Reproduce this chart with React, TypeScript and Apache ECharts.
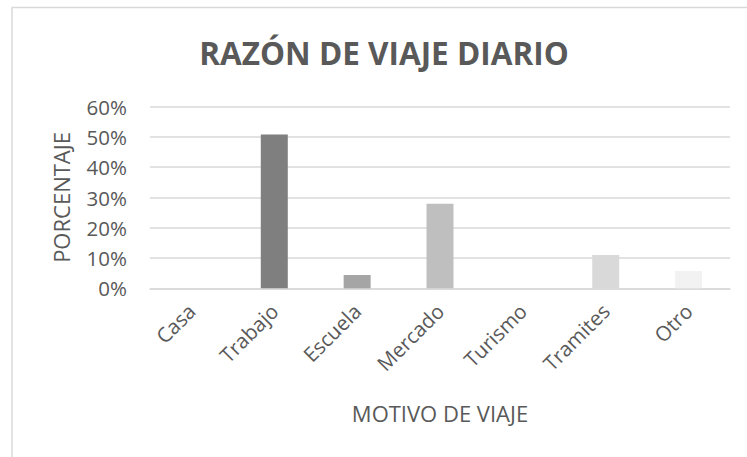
import React, { useEffect, useRef } from "react";
import * as echarts from "echarts";

const categories = ["Casa", "Trabajo", "Escuela", "Mercado", "Turismo", "Tramites", "Otro"];
const values = [0, 0.508, 0.044, 0.279, 0, 0.11, 0.057];
const barColors = ["#595959", "#7f7f7f", "#a5a5a5", "#bfbfbf", "#cccccc", "#d9d9d9", "#f2f2f2"];
const yTicks = [0, 0.1, 0.2, 0.3, 0.4, 0.5, 0.6];

const titleText = "RAZÓN DE VIAJE DIARIO";
const yName = "PORCENTAJE";
const xName = "MOTIVO DE VIAJE";

export default function App() {
  const ref = useRef<HTMLDivElement>(null);
  useEffect(() => {
    if (!ref.current) return;
    const chart = echarts.init(ref.current, undefined, { renderer: "svg" });
    const font = "Open Sans";
    const textColor = "#595959";
    chart.setOption({
      animation: false,
      backgroundColor: "#ffffff",
      textStyle: { fontFamily: font },
      graphic: [
        {
          type: "rect",
          shape: { x: 12, y: 7.5, width: 800, height: 500 },
          style: { fill: "none", stroke: "#d9d9d9", lineWidth: 1.5 },
          silent: true,
          z: -1,
        },
        {
          type: "text",
          x: 384,
          y: 52,
          style: {
            text: titleText,
            fontFamily: font,
            fontWeight: "bold",
            fontSize: 31.5,
            fill: textColor,
            textAlign: "center",
            textVerticalAlign: "middle",
          },
        },
      ],
      grid: { left: 150, right: 17, top: 106.7, bottom: 168.7 },
      xAxis: {
        type: "category",
        data: categories,
        name: xName,
        nameLocation: "middle",
        nameGap: 114,
        nameTextStyle: { fontFamily: font, fontSize: 22, color: textColor },
        axisLine: { show: true, lineStyle: { color: "#d9d9d9", width: 1.5 } },
        axisTick: { show: false },
        axisLabel: {
          rotate: 45,
          interval: 0,
          margin: 19,
          fontFamily: font,
          fontSize: 20.5,
          color: textColor,
        },
      },
      yAxis: {
        type: "value",
        min: yTicks[0],
        max: yTicks[yTicks.length - 1],
        interval: 0.1,
        name: yName,
        nameLocation: "middle",
        nameGap: 78,
        nameTextStyle: { fontFamily: font, fontSize: 22, color: textColor },
        axisLine: { show: false },
        axisTick: { show: false },
        splitLine: { lineStyle: { color: "#d9d9d9", width: 1.5 } },
        axisLabel: {
          margin: 23,
          fontFamily: font,
          fontSize: 20.5,
          color: textColor,
          formatter: (v: number) => Math.round(v * 100) + "%",
        },
      },
      series: [
        {
          type: "bar",
          barWidth: 27,
          data: values.map((v, i) => ({ value: v, itemStyle: { color: barColors[i] } })),
        },
      ],
    });
    return () => chart.dispose();
  }, []);
  return (
    <div
      ref={ref}
      style={{ position: "fixed", left: 0, top: 0, width: 747, height: 457 }}
    />
  );
}
